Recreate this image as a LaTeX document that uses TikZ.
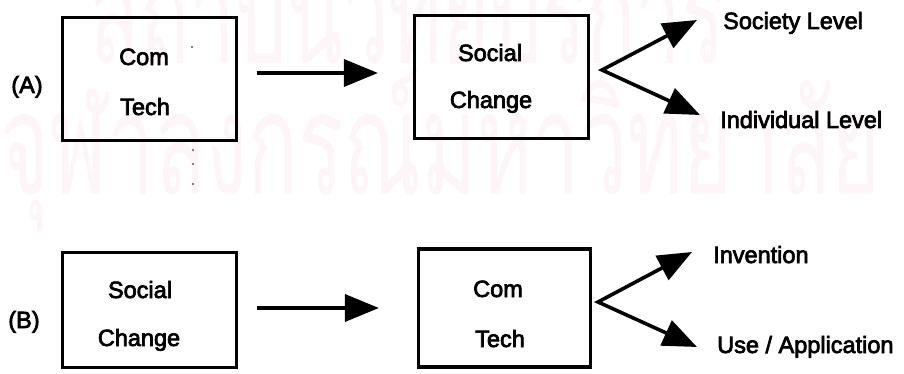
\documentclass[tikz,border=0pt]{standalone}
\usepackage{fontspec}
\setmainfont{Liberation Sans}
\newfontfamily\heavysans{Liberation Sans}[FakeBold=3]
\newfontfamily\thaifont[Script=Thai]{Loma}
\usetikzlibrary{arrows.meta}
\definecolor{wmark}{RGB}{225,110,150}

\begin{document}
\begin{tikzpicture}[x=1pt,y=-1pt,
  box/.style={draw,line width=3.2pt,inner sep=0pt,minimum width=174pt},
  lbl/.style={font=\heavysans\fontsize{23.5}{28}\selectfont,inner sep=0pt,anchor=base},
  side/.style={lbl,anchor=base west},
  stamp/.style={anchor=base west,inner sep=0pt,text=wmark,text opacity=0.07},
  flow/.style={line width=3.6pt,-{Triangle[length=34pt,width=27pt]}},
  fork/.style={line width=3.6pt,{Triangle[length=34pt,width=27pt]}-{Triangle[length=34pt,width=27pt]}},
  speck/.style={fill=black,inner sep=0pt,minimum size=1.6pt,circle},
]
\useasboundingbox (0,0) rectangle (904,374);

% faint institutional stamp behind the figure
\node[stamp] (wm1) at (90,64)
  {\resizebox{635pt}{110pt}{\thaifont สถาบันวิทยบริการ}};
\node[stamp] (wm2) at (0,194)
  {\resizebox{880pt}{125pt}{\thaifont จุฬาลงกรณ์มหาวิทยาลัย}};

% ---------------- (A) ----------------
\node[lbl] (la) at (27,93) {(A)};
\node[box,minimum height=123pt] (A1) at (149.5,79) {};
\node[lbl] (a1t) at (144,65) {Com};
\node[lbl] (a1b) at (145,115) {Tech};

\node[box,minimum height=123pt] (A2) at (501.5,77) {};
\node[lbl] (a2t) at (490,61) {Social};
\node[lbl] (a2b) at (491,108) {Change};

\coordinate (ya) at (0,73);
\draw[flow] ([xshift=19pt]A1.east |- ya) -- ([xshift=-35pt]A2.west |- ya);

\coordinate (forkA) at (602,70);
\coordinate (tipA1) at (697,20);
\coordinate (tipA2) at (700,115);
\draw[fork] (tipA1) -- (forkA) -- (tipA2);
\node[side] (soc) at (723,29) {Society Level};
\node[side] (ind) at (720,128) {Individual Level};

% stray marks between the two rows
\node[speck] (d1) at (192,47) {};
\node[speck] (d2) at (193,150) {};
\node[speck] (d3) at (193,164) {};
\node[speck] (d4) at (193,184) {};

% ---------------- (B) ----------------
\node[lbl] (lb) at (24,328) {(B)};
\node[box,minimum height=115pt] (B1) at (149.5,310) {};
\node[lbl] (b1t) at (140,298) {Social};
\node[lbl] (b1b) at (139,346) {Change};

\node[box,minimum height=118pt,minimum width=172pt] (B2) at (504.5,308) {};
\node[lbl] (b2t) at (498,297) {Com};
\node[lbl] (b2b) at (500,347) {Tech};

\coordinate (yb) at (0,308);
\draw[flow] ([xshift=19pt]B1.east |- yb) -- ([xshift=-38pt]B2.west |- yb);

\coordinate (forkB) at (598,302);
\coordinate (tipB1) at (692,252);
\coordinate (tipB2) at (697,347);
\draw[fork] (tipB1) -- (forkB) -- (tipB2);
\node[side] (inv) at (713,263) {Invention};
\node[side] (use) at (717,353) {Use / Application};
\end{tikzpicture}
\end{document}
